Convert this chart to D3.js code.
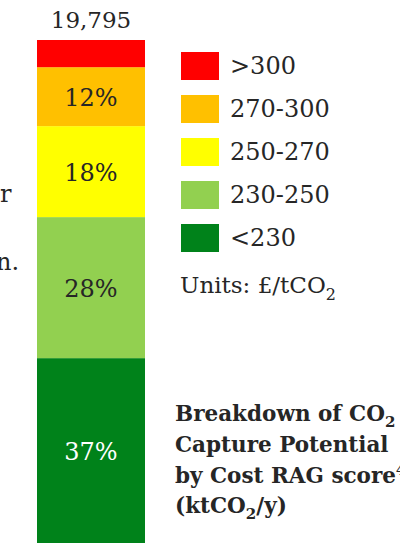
<!DOCTYPE html>
<html>
<head>
<meta charset="utf-8">
<script src="https://cdn.jsdelivr.net/npm/d3@7"></script>
<style>
  html, body { margin: 0; padding: 0; background: #fff; overflow: hidden; }
  svg { display: block; }
  text { font-family: "DejaVu Serif", "Liberation Serif", serif; fill: #262626; }
</style>
</head>
<body>
<svg id="chart" width="400" height="543"></svg>
<script>
// Cost bands (legend order, most expensive first)
const categories = [">300", "270-300", "250-270", "230-250", "<230"];
// CO2 capture potential in each band, ktCO2/y
const values = [1070, 2320, 3580, 5550, 7275];
const colors = ["#FF0000", "#FFC000", "#FFFF00", "#92D050", "#00821A"];
const labelColors = ["#262626", "#262626", "#262626", "#262626", "#ffffff"];
// Fragments of the body text that runs in from the left
const sideText = [{ t: "r", x: 0, y: 202 }, { t: "n.", x: -4, y: 270 }];

const svg = d3.select("#chart");
const W = 400, H = 543;

const total = d3.sum(values);

// Stack from the bottom: cheapest band first
const order = d3.range(categories.length).reverse();
let acc = 0;
const segs = order.map(i => {
  const s = { i, y0: acc, y1: acc + values[i] };
  acc += values[i];
  return s;
});

const y = d3.scaleLinear().domain([0, total]).range([H, 40]);
const x = d3.scaleBand().domain(["all"]).range([37, 145]).padding(0);

svg.append("g").selectAll("rect")
  .data(segs)
  .join("rect")
  .attr("x", x("all"))
  .attr("width", x.bandwidth())
  .attr("y", d => y(d.y1))
  .attr("height", d => y(d.y0) - y(d.y1))
  .attr("fill", d => colors[d.i]);

// Share labels inside the bands large enough to hold them
const pct = d3.format(".0%");
svg.append("g").selectAll("text")
  .data(segs.filter(d => values[d.i] / total >= 0.1))
  .join("text")
  .attr("x", x("all") + x.bandwidth() / 2)
  .attr("y", d => (y(d.y0) + y(d.y1)) / 2 + 1)
  .attr("text-anchor", "middle")
  .attr("dominant-baseline", "central")
  .style("font-size", "24px")
  .style("fill", d => labelColors[d.i])
  .text(d => pct(values[d.i] / total));

// Total above the bar
svg.append("text")
  .attr("x", x("all") + x.bandwidth() / 2)
  .attr("y", 28)
  .attr("text-anchor", "middle")
  .style("font-size", "23px")
  .text(d3.format(",")(total));

// Legend
const leg = svg.append("g").selectAll("g")
  .data(categories)
  .join("g")
  .attr("transform", (d, i) => `translate(181, ${52 + i * 43})`);
leg.append("rect").attr("width", 38).attr("height", 28).attr("fill", (d, i) => colors[i]);
leg.append("text")
  .attr("x", 49).attr("y", 14)
  .attr("dominant-baseline", "central")
  .style("font-size", "24px")
  .text(d => d);

// Units
const units = svg.append("text").attr("x", 180).attr("y", 293).style("font-size", "23px");
units.append("tspan").text("Units: £/tCO");
units.append("tspan").attr("dy", 7).style("font-size", "16px").text("2");

// Title block
const title = svg.append("text").attr("x", 175).style("font-size", "21.5px").style("font-weight", "bold");
const l1 = title.append("tspan").attr("x", 175).attr("y", 421);
l1.append("tspan").text("Breakdown of CO");
l1.append("tspan").attr("dy", 6).style("font-size", "15px").text("2");
title.append("tspan").attr("x", 175).attr("y", 452).text("Capture Potential");
const l3 = title.append("tspan").attr("x", 175).attr("y", 483);
l3.append("tspan").text("by Cost RAG score");
l3.append("tspan").attr("dy", -8).style("font-size", "15px").style("font-weight", "normal").text("4");
const l4 = title.append("tspan").attr("x", 175).attr("y", 513);
l4.append("tspan").text("(ktCO");
l4.append("tspan").attr("dy", 6).style("font-size", "15px").text("2");
l4.append("tspan").attr("dy", -6).text("/y)");

// Side text fragments
svg.append("g").selectAll("text")
  .data(sideText)
  .join("text")
  .attr("x", d => d.x).attr("y", d => d.y)
  .style("font-size", "24px")
  .text(d => d.t);
</script>
</body>
</html>
